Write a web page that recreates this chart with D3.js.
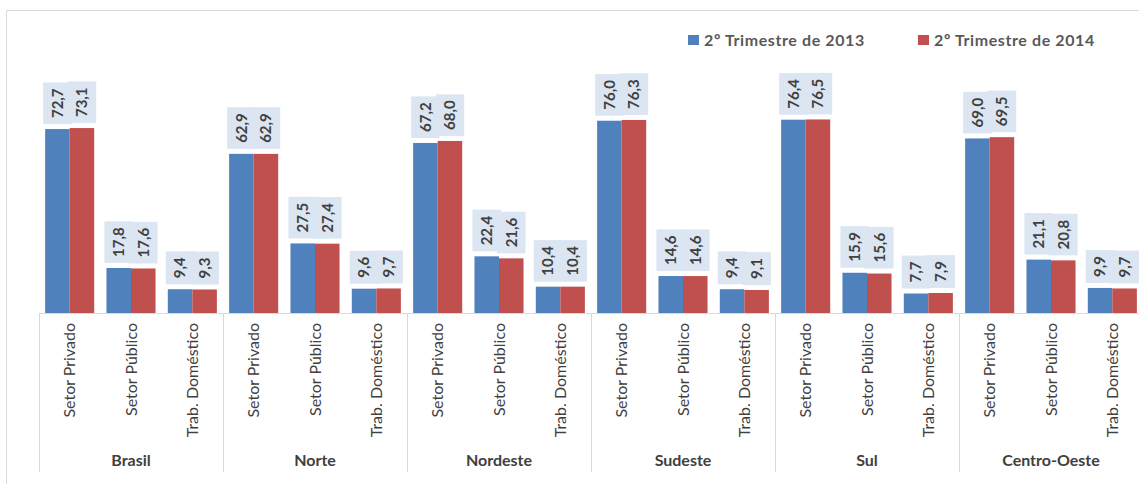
<!DOCTYPE html>
<html><head><meta charset="utf-8">
<script src="https://cdn.jsdelivr.net/npm/d3@7"></script>
<style>
body{margin:0;background:#fff;}
svg{display:block;font-family:Lato,"Open Sans",sans-serif;}
</style></head>
<body><svg id="c" width="1139" height="484"></svg>
<script>
const regions = ["Brasil","Norte","Nordeste","Sudeste","Sul","Centro-Oeste"];
const sectors = ["Setor Privado","Setor Público","Trab. Doméstico"];
const seriesNames = ["2º Trimestre de 2013","2º Trimestre de 2014"];
const colors = ["#4f81bd","#c0504d"];
// values[region][sector] per series
const values2013 = [
  [72.7,17.8,9.4],
  [62.9,27.5,9.6],
  [67.2,22.4,10.4],
  [76.0,14.6,9.4],
  [76.4,15.9,7.7],
  [69.0,21.1,9.9]
];
const values2014 = [
  [73.1,17.6,9.3],
  [62.9,27.4,9.7],
  [68.0,21.6,10.4],
  [76.3,14.6,9.1],
  [76.5,15.6,7.9],
  [69.5,20.8,9.7]
];
const seriesValues = [values2013, values2014];

const svg = d3.select("#c");
const baseY = 313;
const x0 = d3.scaleBand().domain(regions).range([39, 39+6*184]).padding(0);
const x1 = d3.scaleBand().domain(sectors).range([0, x0.bandwidth()]).paddingInner(0.2).paddingOuter(0.1);
const x2 = d3.scaleBand().domain([0,1]).range([0, x1.bandwidth()]);
const y = d3.scaleLinear().domain([0,80]).range([baseY, baseY-202.4]);
const fmt = v => v.toFixed(1).replace(".", ",");

// outer border
svg.append("path").attr("d","M6.5,490 V10.5 H1150").attr("fill","none").attr("stroke","#d9d9d9").attr("stroke-width",1);

// axis line and separators
svg.append("line").attr("x1",39).attr("x2",1150).attr("y1",baseY+0.5).attr("y2",baseY+0.5).attr("stroke","#d9d9d9");
const seps = regions.map(r=>x0(r)).concat([x0.range()[1]]);
svg.selectAll(".sep").data(seps).join("line")
  .attr("x1",d=>Math.round(d)+0.5).attr("x2",d=>Math.round(d)+0.5)
  .attr("y1",baseY).attr("y2",472).attr("stroke","#d9d9d9");

// bars
regions.forEach((r,ri)=>{
  sectors.forEach((s,si)=>{
    [0,1].forEach(k=>{
      const v = seriesValues[k][ri][si];
      const bx = x0(r)+x1(s)+x2(k);
      svg.append("rect").attr("x",bx).attr("y",y(v)).attr("width",x2.bandwidth()).attr("height",baseY-y(v)).attr("fill",colors[k]);
    });
  });
});
// labels
regions.forEach((r,ri)=>{
  sectors.forEach((s,si)=>{
    [0,1].forEach(k=>{
      const v = seriesValues[k][ri][si];
      const cx = x0(r)+x1(s)+x2(k)+x2.bandwidth()/2;
      const g = svg.append("g");
      const bottom = y(v)-5;
      const t = g.append("text").text(fmt(v))
        .attr("font-size",15).attr("font-weight","bold").attr("fill","#404040")
        .attr("text-anchor","middle").attr("dy","0.35em")
        .attr("transform",`translate(${cx},0) rotate(-90)`);
      const len = t.node().getComputedTextLength();
      const h = len+12;
      const cy = bottom - h/2;
      t.attr("transform",`translate(${cx},${cy}) rotate(-90)`);
      g.insert("rect","text").attr("x",cx-14.3).attr("y",bottom-h).attr("width",28.6).attr("height",h).attr("fill","#dce6f2");
    });
  });
});

// category labels
regions.forEach(r=>{
  sectors.forEach(s=>{
    const cx = x0(r)+x1(s)+x1.bandwidth()/2;
    svg.append("text").text(s).attr("font-size",16).attr("fill","#404040")
      .attr("text-anchor","end").attr("dy","0.35em")
      .attr("transform",`translate(${cx},${323}) rotate(-90)`);
  });
  svg.append("text").text(r).attr("x",x0(r)+x0.bandwidth()/2).attr("y",466)
    .attr("text-anchor","middle").attr("font-size",16).attr("font-weight","bold").attr("fill","#404040");
});

// legend
const legX = [688, 918];
seriesNames.forEach((n,i)=>{
  svg.append("rect").attr("x",legX[i]).attr("y",35).attr("width",11).attr("height",10).attr("fill",colors[i]);
  svg.append("text").text(n).attr("x",legX[i]+16).attr("y",46).attr("font-size",16).attr("letter-spacing","0.6px").attr("font-weight","bold").attr("fill","#595959");
});
</script></body></html>
